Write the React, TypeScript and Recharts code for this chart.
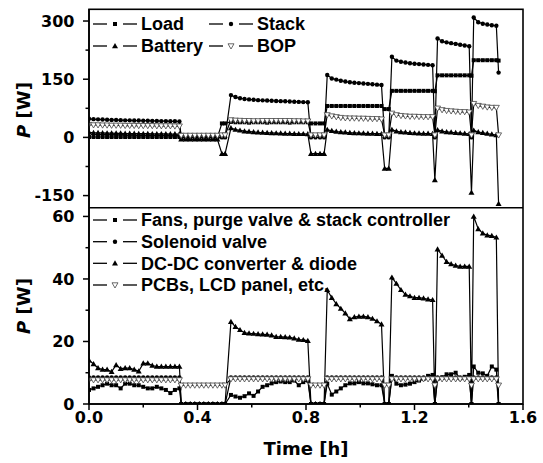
import { LineChart, Line, XAxis, YAxis } from "recharts";

// time in hours (roughly one sample per minute, extra samples at the switching events)
const timeH = [
  0, 0.0167, 0.0333, 0.05, 0.0667, 0.0833, 0.1, 0.1167, 0.1333, 0.15, 0.1667, 0.1833, 0.2, 0.2167, 0.2333, 0.25, 0.2667, 0.2833, 0.3, 0.3167, 0.3333,
  0.34, 0.3567, 0.3733, 0.39, 0.4067, 0.4233, 0.44, 0.4567, 0.4733,
  0.49, 0.5017,
  0.5233, 0.54, 0.5567, 0.5733, 0.59, 0.6067, 0.6233, 0.64, 0.6567, 0.6733, 0.69, 0.7067, 0.7233, 0.74, 0.7567, 0.7733, 0.79, 0.8067,
  0.8183, 0.835, 0.8517, 0.8667,
  0.8783, 0.895, 0.9117, 0.9283, 0.945, 0.9617, 0.9783, 0.995, 1.0117, 1.0283, 1.045, 1.0617, 1.0783,
  1.09, 1.105,
  1.1167, 1.1333, 1.15, 1.1667, 1.1833, 1.2, 1.2167, 1.2333, 1.25, 1.2667,
  1.275,
  1.285, 1.3017, 1.3183, 1.335, 1.3517, 1.3683, 1.385, 1.4017,
  1.41,
  1.4183, 1.435, 1.4517, 1.4683, 1.485, 1.5017,
  1.51,
];

// top panel [W]
const loadP = [
  1, 1, 1, 1, 1, 1, 1, 1, 1, 1, 1, 1, 1, 1, 1, 1, 1, 1, 1, 1, 1,
  0, 0, 0, 0, 0, 0, 0, 0, 0,
  36, 36,
  40, 39, 39, 39, 38, 39, 39, 39, 38, 39, 39, 39, 39, 38, 39, 39, 39, 39,
  36, 36, 36, 36,
  81, 81, 81, 81, 81, 81, 81, 81, 81, 81, 81, 81, 81,
  73, 73,
  120, 120, 120, 120, 120, 120, 120, 120, 120, 120,
  119,
  160, 160, 160, 160, 160, 160, 160, 160,
  159,
  199, 199, 199, 199, 199, 199,
  198,
];
const stackP = [
  48, 47, 46.5, 46, 45.5, 45, 45, 44.5, 44, 44, 43.5, 43.5, 43, 43, 42.5, 42.5, 42, 42, 41.5, 41.5, 41,
  0, 0, 0, 0, 0, 0, 0, 0, 0,
  0, 0,
  109, 104, 101, 99, 98, 97, 96, 95.5, 95, 94.5, 94, 93.5, 93, 92.5, 92, 91.5, 91, 90.5,
  0, 0, 0, 0,
  161, 152, 149, 146, 144, 142, 141, 140, 139, 138, 137, 136, 135,
  0, 0,
  208, 198, 195, 193, 191, 190, 189, 188, 187, 186,
  0,
  255, 248, 245, 243, 241, 239, 237, 235,
  0,
  309, 297, 293, 291, 289, 288,
  167,
];
const batteryP = [
  13, 12, 12, 11.5, 11, 11, 10.5, 10.5, 10, 10, 10, 9.5, 9.5, 9.5, 9, 9, 9, 9, 8.5, 8.5, 8.5,
  -5, -5, -5, -5, -5, -5, -5, -5, -5,
  -42, -42,
  24, 20, 18, 16, 15, 14, 13, 12.5, 12, 11.5, 11, 10.5, 10, 10, 9.5, 9, 9, 8.5,
  -42, -42, -42, -42,
  20, 17, 15, 14, 13, 12, 11.5, 11, 10.5, 10, 10, 9.5, 9,
  -80, -80,
  20, 16, 14, 13, 12, 11, 10.5, 10, 10, 9.5,
  -110,
  19, 16, 14, 13, 12, 11, 10, 9,
  -142,
  18, 14, 12, 10, 8, 6,
  -171,
];
const bopP = [
  33, 32, 32, 31.5, 31.5, 31, 31, 31, 30.5, 30.5, 30.5, 30, 30, 30, 30, 29.5, 29.5, 29.5, 29.5, 29, 29,
  5, 5, 5, 5, 5, 5, 5, 5, 5,
  6, 6,
  45, 44, 43.5, 43, 43, 42.5, 42.5, 43, 43, 43, 43, 43, 43, 43, 42.5, 42.5, 42, 42,
  6, 6, 6, 6,
  58, 55, 53, 51, 50, 49.5, 49.5, 49, 49, 48.5, 48, 48, 47,
  6, 6,
  62, 58, 56, 55, 54, 54, 53.5, 53, 53, 53,
  6,
  75, 71, 69, 68, 67, 66, 66, 65,
  6,
  87, 82, 80, 78, 77, 77,
  6,
];

// bottom panel [W]
const fansP = [
  4.5, 5, 5.5, 6, 6.5, 6, 6, 5, 6.5, 6.5, 6, 6, 5.5, 5, 5, 5.5, 5, 4.5, 3.5, 4.5, 5,
  0, 0, 0, 0, 0, 0, 0, 0, 0,
  0, 0,
  2.9, 2.4, 2, 2.5, 3.4, 2.6, 4, 5.5, 6, 6.6, 7, 7.2, 7, 7, 7.5, 6, 7, 7.5,
  0, 0, 0, 0,
  6.5, 3, 4, 5, 6, 6.6, 6.6, 7, 6.6, 6.6, 6.3, 6, 6,
  0, 0,
  9, 6.5, 6, 6.2, 6.5, 7, 7.5, 8, 9, 9.3,
  0,
  8, 8.5, 9.5, 9.5, 10, 8.2, 8.7, 9.3,
  0,
  12, 10, 9.8, 9, 12, 11,
  0,
];
const solenoidP = [
  8.5, 8.5, 8.5, 8.5, 8.5, 8.5, 8.5, 8.5, 8.5, 8.5, 8.5, 8.5, 8.5, 8.5, 8.5, 8.5, 8.5, 8.5, 8.5, 8.5, 8.5,
  0, 0, 0, 0, 0, 0, 0, 0, 0,
  0, 0,
  8.5, 8.5, 8.5, 8.5, 8.5, 8.5, 8.5, 8.5, 8.5, 8.5, 8.5, 8.5, 8.5, 8.5, 8.5, 8.5, 8.5, 8.5,
  0, 0, 0, 0,
  8.5, 8.5, 8.5, 8.5, 8.5, 8.5, 8.5, 8.5, 8.5, 8.5, 8.5, 8.5, 8.5,
  0, 0,
  8.5, 8.5, 8.5, 8.5, 8.5, 8.5, 8.5, 8.5, 8.5, 8.5,
  0,
  8.5, 8.5, 8.5, 8.5, 8.5, 8.5, 8.5, 8.5,
  0,
  8.5, 8.5, 8.5, 8.5, 8.5, 8.5,
  0,
];
const dcdcP = [
  14, 12.8, 11.5, 11, 11, 10.3, 12.5, 11.3, 11.5, 11.5, 11, 10.5, 13, 13, 12.3, 12, 12, 12, 12, 12, 12,
  0, 0, 0, 0, 0, 0, 0, 0, 0,
  0, 0,
  26.3, 24.7, 23.7, 22.8, 22.6, 22.5, 22.4, 22.3, 22.2, 22, 21.5, 21.5, 21.4, 21.3, 21, 20.6, 20.5, 20.2,
  0, 0, 0, 0,
  36.5, 34, 32, 30.5, 29, 27.2, 27.8, 28, 28, 27.8, 27.3, 26.5, 25.5,
  0, 0,
  40.5, 38.5, 36.5, 35, 34.5, 34, 34, 33.8, 33.5, 33.3,
  0,
  49.5, 47.5, 45.5, 44.8, 44.3, 44, 44, 44,
  0,
  60, 56, 54.6, 54, 53.8, 53.3,
  0,
];
const pcbsP = [
  7.7, 7.7, 7.7, 7.7, 7.7, 7.7, 7.7, 7.7, 7.7, 7.7, 7.7, 7.7, 7.7, 7.7, 7.7, 7.7, 7.7, 7.7, 7.7, 7.7, 7.7,
  6, 6, 6, 6, 6, 6, 6, 6, 6,
  6, 6,
  8, 8, 8, 8, 8, 8, 8, 8, 8, 8, 8, 8, 8, 8, 8, 8, 8, 8,
  6, 6, 6, 6,
  8, 8, 8, 8, 8, 8, 8, 8, 8, 8, 8, 8, 8,
  6, 6,
  8, 8, 8, 8, 8, 8, 8, 8, 8, 8,
  6,
  8, 8, 8, 8, 8, 8, 8, 8,
  6,
  8, 8, 8, 8, 8, 8,
  6,
];

const xTicks = [0, 0.2, 0.4, 0.6, 0.8, 1.0, 1.2, 1.4, 1.6];
const xLabeled = [0, 0.4, 0.8, 1.2, 1.6];
const topTicks = [-150, -75, 0, 75, 150, 225, 300];
const topLabeled = [-150, 0, 150, 300];
const botTicks = [0, 10, 20, 30, 40, 50, 60];
const botLabeled = [0, 20, 40, 60];

const rows = timeH.map((t, i) => ({
  t,
  load: loadP[i],
  stack: stackP[i],
  battery: batteryP[i],
  bop: bopP[i],
  fans: fansP[i],
  solenoid: solenoidP[i],
  dcdc: dcdcP[i],
  pcbs: pcbsP[i],
}));

const TICK_FONT = "'DejaVu Sans', sans-serif";
const LEGEND_FONT = "'Liberation Sans', Arial, sans-serif";

type Shape = "square" | "circle" | "up" | "down";

function Marker({ cx, cy, shape }: { cx: number; cy: number; shape: Shape }) {
  if (shape === "square") return <rect x={cx - 2} y={cy - 2} width={4} height={4} fill="#000" />;
  if (shape === "circle") return <circle cx={cx} cy={cy} r={2.2} fill="#000" />;
  if (shape === "up")
    return <polygon points={`${cx},${cy - 3} ${cx - 3},${cy + 2.2} ${cx + 3},${cy + 2.2}`} fill="#000" />;
  return (
    <polygon
      points={`${cx - 3},${cy - 2.2} ${cx + 3},${cy - 2.2} ${cx},${cy + 3}`}
      fill="#fff"
      stroke="#444"
      strokeWidth={0.8}
    />
  );
}

const dotOf = (shape: Shape) => (p: any) =>
  p.cx == null || p.cy == null ? <g key={`${shape}-${p.index}`} /> : (
    <g key={`${shape}-${p.index}`}>
      <Marker cx={p.cx} cy={p.cy} shape={shape} />
    </g>
  );

const near = (list: number[], v: number) => list.some((u) => Math.abs(u - v) < 1e-6);

const makeYTick = (labeled: number[]) => (props: any) => {
  const { x, y, payload } = props;
  const major = near(labeled, payload.value);
  return (
    <g>
      <line x1={x - (major ? 6 : 3.5)} x2={x} y1={y} y2={y} stroke="#000" strokeWidth={1.5} />
      {major && (
        <text x={x - 14.5} y={y} dy="0.36em" textAnchor="end" fontFamily={TICK_FONT} fontWeight="bold" fontSize={16} fill="#000">
          {payload.value}
        </text>
      )}
    </g>
  );
};

const XTick = (props: any) => {
  const { x, y, payload } = props;
  const major = near(xLabeled, payload.value);
  return (
    <g>
      <line x1={x} x2={x} y1={y} y2={y + (major ? 6 : 3.5)} stroke="#000" strokeWidth={1.5} />
      {major && (
        <text x={x} y={y + 7.5} dy="0.71em" textAnchor="middle" fontFamily={TICK_FONT} fontWeight="bold" fontSize={16} fill="#000">
          {payload.value.toFixed(1)}
        </text>
      )}
    </g>
  );
};

function LegendRow({ x, y, shape, label }: { x: number; y: number; shape: Shape; label: string }) {
  return (
    <g>
      <line x1={x} x2={x + 14} y1={y} y2={y} stroke="#000" strokeWidth={1.3} />
      <Marker cx={x + 22} cy={y} shape={shape} />
      <line x1={x + 30} x2={x + 44} y1={y} y2={y} stroke="#000" strokeWidth={1.3} />
      <text x={x + 48} y={y} dy="0.36em" fontFamily={LEGEND_FONT} fontWeight="bold" fontSize={18} fill="#000">
        {label}
      </text>
    </g>
  );
}

function YTitle({ cx, cy }: { cx: number; cy: number }) {
  return (
    <text
      x={cx}
      y={cy}
      dy="0.36em"
      textAnchor="middle"
      transform={`rotate(-90 ${cx} ${cy})`}
      fontFamily={TICK_FONT}
      fontWeight="bold"
      fontSize={18}
      fill="#000"
    >
      <tspan fontStyle="italic">P</tspan> [W]
    </text>
  );
}

const line = (key: string, shape: Shape) => (
  <Line
    key={key}
    dataKey={key}
    type="linear"
    stroke="#000"
    strokeWidth={1.2}
    dot={dotOf(shape)}
    activeDot={false}
    isAnimationActive={false}
  />
);

export default function App() {
  return (
    <div style={{ position: "absolute", left: 0, top: 0, width: 543, height: 463, background: "#fff" }}>
      <div style={{ position: "absolute", left: 0, top: 0 }}>
        <LineChart width={543} height={216} data={rows} margin={{ top: 9, right: 20, bottom: 8, left: 0 }}>
          <XAxis dataKey="t" type="number" domain={[0, 1.6]} allowDataOverflow hide />
          <YAxis
            type="number"
            domain={[-182, 331]}
            allowDataOverflow
            ticks={topTicks}
            interval={0}
            width={89}
            tickSize={0}
            tickMargin={0}
            tickLine={false}
            tick={makeYTick(topLabeled)}
            axisLine={{ stroke: "#000", strokeWidth: 1.6 }}
          />
          {line("load", "square")}
          {line("stack", "circle")}
          {line("battery", "up")}
          {line("bop", "down")}
        </LineChart>
      </div>
      <div style={{ position: "absolute", left: 0, top: 200 }}>
        <LineChart width={543} height={263} data={rows} margin={{ top: 8, right: 20, bottom: 19, left: 0 }}>
          <XAxis
            dataKey="t"
            type="number"
            domain={[0, 1.6]}
            allowDataOverflow
            ticks={xTicks}
            interval={0}
            height={40}
            tickSize={0}
            tickMargin={0}
            tickLine={false}
            tick={XTick}
            axisLine={{ stroke: "#000", strokeWidth: 1.6 }}
          />
          <YAxis
            type="number"
            domain={[0, 62.7]}
            allowDataOverflow
            ticks={botTicks}
            interval={0}
            width={89}
            tickSize={0}
            tickMargin={0}
            tickLine={false}
            tick={makeYTick(botLabeled)}
            axisLine={{ stroke: "#000", strokeWidth: 1.6 }}
          />
          {line("fans", "square")}
          {line("solenoid", "circle")}
          {line("dcdc", "up")}
          {line("pcbs", "down")}
        </LineChart>
      </div>
      <svg width={543} height={463} style={{ position: "absolute", left: 0, top: 0, pointerEvents: "none" }}>
        <rect x={89} y={9.3} width={434} height={394.7} fill="none" stroke="#000" strokeWidth={1.6} />
        <line x1={89} x2={523} y1={207.7} y2={207.7} stroke="#000" strokeWidth={1.6} />
        <LegendRow x={93} y={24} shape="square" label="Load" />
        <LegendRow x={209} y={24} shape="circle" label="Stack" />
        <LegendRow x={93} y={46} shape="up" label="Battery" />
        <LegendRow x={209} y={46} shape="down" label="BOP" />
        <LegendRow x={93} y={220} shape="square" label="Fans, purge valve & stack controller" />
        <LegendRow x={93} y={241.7} shape="circle" label="Solenoid valve" />
        <LegendRow x={93} y={263.3} shape="up" label="DC-DC converter & diode" />
        <LegendRow x={93} y={285} shape="down" label="PCBs, LCD panel, etc." />
        <YTitle cx={24} cy={110} />
        <YTitle cx={24} cy={306} />
        <text x={306} y={455} textAnchor="middle" fontFamily={TICK_FONT} fontWeight="bold" fontSize={18} fill="#000">
          Time [h]
        </text>
      </svg>
    </div>
  );
}
